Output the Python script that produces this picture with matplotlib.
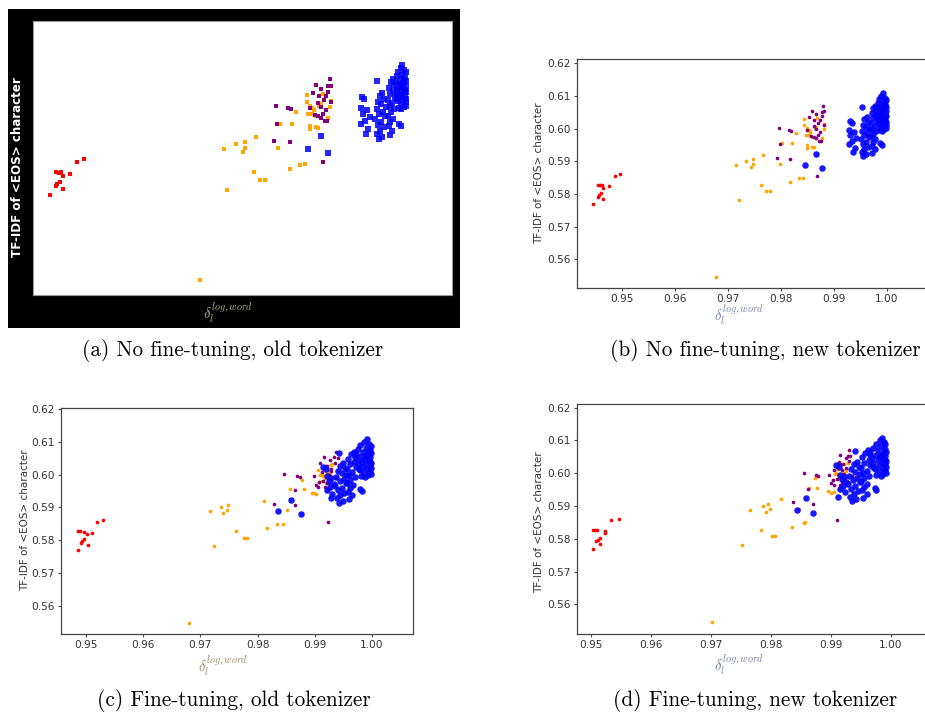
import matplotlib
matplotlib.use('Agg')
import matplotlib.pyplot as plt

# ---------------- data (y shared by all panels, x per panel) ----------------
red_y = [0.5770, 0.5828, 0.5828, 0.5818, 0.5792, 0.5797, 0.5804, 0.5785, 0.5823, 0.5856, 0.5862, 0.5826]
red_x_b = [0.9446, 0.9455, 0.9463, 0.9465, 0.9455, 0.9457, 0.9461, 0.9465, 0.9477, 0.9487, 0.9498, 0.9459]
red_x_c = [0.9486, 0.9485, 0.9490, 0.9501, 0.9491, 0.9493, 0.9496, 0.9504, 0.9511, 0.9519, 0.9530, 0.9497]
red_x_d = [0.9503, 0.9502, 0.9509, 0.9522, 0.9508, 0.9511, 0.9514, 0.9515, 0.9522, 0.9533, 0.9546, 0.9506]

orange_y = [0.5547, 0.5889, 0.5782, 0.5901, 0.5882, 0.5907, 0.5891, 0.5828, 0.5920, 0.5808,
            0.5808, 0.5891, 0.5955, 0.5955, 0.5985, 0.5836, 0.5848, 0.5850, 0.6029, 0.6011,
            0.5979, 0.6001, 0.5950, 0.5940, 0.5996, 0.5991, 0.5945, 0.5943, 0.6001, 0.6006,
            0.6032, 0.5970, 0.5999, 0.6014, 0.5981, 0.5974]
orange_x_b = [0.9678, 0.9715, 0.9721, 0.9735, 0.9745, 0.9748, 0.9748, 0.9763, 0.9766, 0.9772,
              0.9779, 0.9799, 0.9802, 0.9822, 0.9828, 0.9818, 0.9834, 0.9842, 0.9844, 0.9844,
              0.9847, 0.9849, 0.9849, 0.9850, 0.9853, 0.9855, 0.9859, 0.9862, 0.9864, 0.9867,
              0.9869, 0.9877, 0.9881, 0.9882, 0.9853, 0.9859]
orange_x_c = [0.9680, 0.9716, 0.9724, 0.9736, 0.9740, 0.9749, 0.9747, 0.9762, 0.9812, 0.9777,
              0.9782, 0.9851, 0.9856, 0.9882, 0.9878, 0.9817, 0.9834, 0.9844, 0.9929, 0.9924,
              0.9908, 0.9912, 0.9920, 0.9902, 0.9915, 0.9918, 0.9898, 0.9895, 0.9927, 0.9922,
              0.9931, 0.9926, 0.9910, 0.9905, 0.9913, 0.9919]
orange_x_d = [0.9702, 0.9765, 0.9751, 0.9786, 0.9791, 0.9795, 0.9798, 0.9783, 0.9817, 0.9802,
              0.9806, 0.9847, 0.9863, 0.9877, 0.9874, 0.9835, 0.9855, 0.9857, 0.9922, 0.9918,
              0.9903, 0.9908, 0.9916, 0.9900, 0.9912, 0.9915, 0.9895, 0.9905, 0.9920, 0.9925,
              0.9928, 0.9922, 0.9907, 0.9911, 0.9913, 0.9930]

purple_y = [0.6001, 0.5953, 0.5996, 0.5993, 0.5911, 0.5907, 0.5856, 0.6035, 0.6055, 0.6027,
            0.5970, 0.5981, 0.5963, 0.5963, 0.5998, 0.6016, 0.6037, 0.6052, 0.6070, 0.6054,
            0.6011, 0.5991, 0.6027, 0.6009, 0.5978, 0.5974, 0.5996, 0.6045]
purple_x_b = [0.9796, 0.9798, 0.9815, 0.9820, 0.9793, 0.9818, 0.9869, 0.9854, 0.9859, 0.9863,
              0.9867, 0.9870, 0.9873, 0.9876, 0.9866, 0.9871, 0.9877, 0.9878, 0.9880, 0.9882,
              0.9882, 0.9875, 0.9874, 0.9862, 0.9857, 0.9862, 0.9850, 0.9866]
purple_x_c = [0.9847, 0.9866, 0.9869, 0.9875, 0.9828, 0.9866, 0.9923, 0.9910, 0.9917, 0.9920,
              0.9902, 0.9915, 0.9905, 0.9918, 0.9925, 0.9929, 0.9936, 0.9940, 0.9937, 0.9933,
              0.9928, 0.9938, 0.9921, 0.9912, 0.9908, 0.9921, 0.9899, 0.9927]
purple_x_d = [0.9856, 0.9862, 0.9875, 0.9879, 0.9837, 0.9870, 0.9911, 0.9913, 0.9915, 0.9920,
              0.9900, 0.9910, 0.9906, 0.9916, 0.9922, 0.9925, 0.9930, 0.9932, 0.9930, 0.9928,
              0.9919, 0.9935, 0.9915, 0.9905, 0.9903, 0.9918, 0.9897, 0.9926]

blue_y = [0.5889, 0.5923, 0.5879, 0.6067,
          0.6108, 0.6100, 0.6095, 0.6090, 0.6088, 0.6082, 0.6078, 0.6075, 0.6070, 0.6066,
          0.6064, 0.6060, 0.6056, 0.6053, 0.6049, 0.6046, 0.6043, 0.6040, 0.6037, 0.6033,
          0.6030, 0.6027, 0.6024, 0.6020, 0.6016, 0.6013, 0.6010, 0.6006, 0.6002, 0.5999,
          0.5996, 0.6040, 0.6055, 0.6019, 0.6068, 0.5993,
          0.6070, 0.6062, 0.6055, 0.6048, 0.6040, 0.6032, 0.6024, 0.6016, 0.6008, 0.6000,
          0.5992, 0.5984, 0.5976, 0.5968, 0.5958, 0.5948, 0.5937, 0.5925, 0.5955, 0.5950,
          0.6035, 0.6028, 0.6020, 0.6012, 0.6005, 0.5998, 0.5992, 0.5986, 0.5980, 0.5974,
          0.5967, 0.5960, 0.5952, 0.5945, 0.5937, 0.5929, 0.5921, 0.5915,
          0.6024, 0.6018, 0.5996, 0.5990, 0.5981, 0.5972, 0.5962, 0.5953, 0.5942, 0.5928]
blue_x_b = [0.9846, 0.9866, 0.9877, 0.9953,
            0.9993, 0.9990, 0.9996, 0.9986, 0.9999, 0.9992, 0.9984, 0.9997, 0.9989, 0.9999,
            0.9983, 0.9994, 0.9987, 0.9998, 0.9991, 0.9984, 0.9996, 0.9988, 0.9999, 0.9993,
            0.9985, 0.9997, 0.9989, 0.9999, 0.9994, 0.9986, 0.9998, 0.9990, 0.9999, 0.9995,
            0.9987, 0.9997, 0.9992, 0.9985, 0.9996, 0.9991,
            0.9978, 0.9975, 0.9980, 0.9972, 0.9979, 0.9974, 0.9981, 0.9971, 0.9977, 0.9973,
            0.9980, 0.9975, 0.9971, 0.9978, 0.9974, 0.9972, 0.9977, 0.9973, 0.9987, 0.9991,
            0.9962, 0.9958, 0.9965, 0.9955, 0.9960, 0.9967, 0.9953, 0.9963, 0.9957, 0.9966,
            0.9951, 0.9960, 0.9955, 0.9964, 0.9958, 0.9953, 0.9961, 0.9956,
            0.9930, 0.9934, 0.9928, 0.9938, 0.9931, 0.9942, 0.9935, 0.9928, 0.9940, 0.9937]
blue_x_c = [0.9835, 0.9858, 0.9876, 0.9943,
            0.9992, 0.9987, 0.9995, 0.9980, 0.9998, 0.9989, 0.9976, 0.9996, 0.9984, 0.9998,
            0.9973, 0.9992, 0.9981, 0.9997, 0.9987, 0.9975, 0.9995, 0.9983, 0.9998, 0.9990,
            0.9977, 0.9996, 0.9985, 0.9998, 0.9992, 0.9979, 0.9997, 0.9986, 0.9998, 0.9993,
            0.9981, 0.9996, 0.9989, 0.9977, 0.9995, 0.9988,
            0.9968, 0.9963, 0.9971, 0.9958, 0.9969, 0.9961, 0.9972, 0.9957, 0.9966, 0.9960,
            0.9970, 0.9962, 0.9956, 0.9967, 0.9961, 0.9958, 0.9966, 0.9960, 0.9980, 0.9982,
            0.9950, 0.9945, 0.9953, 0.9941, 0.9947, 0.9955, 0.9938, 0.9951, 0.9944, 0.9954,
            0.9936, 0.9948, 0.9941, 0.9952, 0.9945, 0.9939, 0.9949, 0.9943,
            0.9914, 0.9919, 0.9922, 0.9929, 0.9925, 0.9933, 0.9927, 0.9921, 0.9931, 0.9928]
blue_x_d = [0.9843, 0.9858, 0.9870, 0.9940,
            0.9986, 0.9982, 0.9989, 0.9975, 0.9991, 0.9984, 0.9970, 0.9990, 0.9979, 0.9992,
            0.9966, 0.9987, 0.9976, 0.9991, 0.9982, 0.9968, 0.9989, 0.9978, 0.9992, 0.9985,
            0.9971, 0.9990, 0.9980, 0.9992, 0.9987, 0.9973, 0.9991, 0.9981, 0.9992, 0.9988,
            0.9975, 0.9990, 0.9984, 0.9970, 0.9989, 0.9983,
            0.9962, 0.9957, 0.9965, 0.9952, 0.9963, 0.9955, 0.9966, 0.9951, 0.9960, 0.9954,
            0.9964, 0.9956, 0.9950, 0.9961, 0.9955, 0.9952, 0.9960, 0.9954, 0.9973, 0.9975,
            0.9943, 0.9938, 0.9947, 0.9934, 0.9940, 0.9949, 0.9931, 0.9944, 0.9937, 0.9948,
            0.9929, 0.9941, 0.9934, 0.9946, 0.9938, 0.9932, 0.9942, 0.9936,
            0.9908, 0.9913, 0.9916, 0.9922, 0.9919, 0.9926, 0.9920, 0.9915, 0.9924, 0.9912]

x_ticks = [0.95, 0.96, 0.97, 0.98, 0.99, 1.00]
y_ticks = [0.56, 0.57, 0.58, 0.59, 0.60, 0.61, 0.62]
y_label = "TF-IDF of <EOS> character"
x_label = r"$\delta_l^{log,word}$"
captions = ["(a) No fine-tuning, old tokenizer", "(b) No fine-tuning, new tokenizer",
            "(c) Fine-tuning, old tokenizer", "(d) Fine-tuning, new tokenizer"]

# ---------------- layout helpers ----------------
W, H = 925, 713
fig = plt.figure(figsize=(W / 100, H / 100), dpi=100)


def box(l, t, r, b):
    return [l / W, 1 - b / H, (r - l) / W, (b - t) / H]


def fx(px):
    return px / W


def fy(py):
    return 1 - py / H


def style_axes(ax):
    for s in ax.spines.values():
        s.set_color('#444444')
        s.set_linewidth(0.9)
    ax.set_xticks(x_ticks)
    ax.set_xticklabels(["%.2f" % v for v in x_ticks])
    ax.set_yticks(y_ticks)
    ax.set_yticklabels(["%.2f" % v for v in y_ticks])
    ax.tick_params(labelsize=7.6, length=2.5, width=0.8, color='#444444',
                   labelcolor='#333333', pad=1.8)


def draw_points(ax, xr, xo, xp, xb, square=False):
    if square:
        ax.scatter(xr, red_y, s=10, c='red', marker='s', linewidths=0)
        ax.scatter(xo, orange_y, s=10, c='orange', marker='s', linewidths=0)
        ax.scatter(xp, purple_y, s=10, c='purple', marker='s', linewidths=0)
        ax.scatter(xb, blue_y, s=18, c='blue', marker='s', linewidths=0, alpha=0.85)
    else:
        ax.scatter(xr, red_y, s=7, c='red', linewidths=0)
        ax.scatter(xo, orange_y, s=7, c='orange', linewidths=0)
        ax.scatter(xp, purple_y, s=7, c='purple', linewidths=0)
        ax.scatter(xb, blue_y, s=22, c='blue', linewidths=0, alpha=0.9)


# ---------------- panel (a): dark-theme export ----------------
ax_bg = fig.add_axes(box(8, 9, 460, 328), zorder=0)
ax_bg.set_facecolor('black')
ax_bg.set_xticks([])
ax_bg.set_yticks([])
for s in ax_bg.spines.values():
    s.set_visible(False)

ax_a = fig.add_axes(box(33, 21, 452, 295), zorder=1)
ax_a.set_facecolor('white')
draw_points(ax_a, red_x_b, orange_x_b, purple_x_b, blue_x_b, square=True)
ax_a.set_xlim(0.9419, 1.0070)
ax_a.set_ylim(0.5509, 0.6222)
ax_a.set_xticks([])
ax_a.set_yticks([])
for s in ax_a.spines.values():
    s.set_color('#999999')
    s.set_linewidth(0.8)
fig.text(fx(18), fy(167), y_label, rotation=90, ha='center', va='center',
         color='white', fontsize=8.6, fontweight='bold', family='DejaVu Sans', zorder=3)
fig.text(fx(228), fy(313), x_label, ha='center', va='center', color='#b8ae98',
         fontsize=10.5, math_fontfamily='cm', zorder=3)

# ---------------- panel (b) ----------------
ax_b = fig.add_axes(box(577, 59, 926, 288))
draw_points(ax_b, red_x_b, orange_x_b, purple_x_b, blue_x_b)
ax_b.set_xlim(0.9416, 1.0074)
ax_b.set_ylim(0.5512, 0.6213)
style_axes(ax_b)

# ---------------- panel (c) ----------------
ax_c = fig.add_axes(box(61, 408, 413, 634))
draw_points(ax_c, red_x_c, orange_x_c, purple_x_c, blue_x_c)
ax_c.set_xlim(0.9456, 1.0072)
ax_c.set_ylim(0.5513, 0.6204)
style_axes(ax_c)

# ---------------- panel (d) ----------------
ax_d = fig.add_axes(box(577, 404, 926, 634))
draw_points(ax_d, red_x_d, orange_x_d, purple_x_d, blue_x_d)
ax_d.set_xlim(0.9476, 1.0059)
ax_d.set_ylim(0.5510, 0.6211)
style_axes(ax_d)

# axis labels for b, c, d
for (lx, ly, xl_x, xl_y, col) in [(539, 173, 739, 315, '#7580a8'),
                                  (25, 520, 223, 666, '#9c8466'),
                                  (539, 522, 739, 665, '#7580a8')]:
    fig.text(fx(lx), fy(ly), y_label, rotation=90, ha='center', va='center',
             color='#333333', fontsize=7.5, family='DejaVu Sans')
    fig.text(fx(xl_x), fy(xl_y), x_label, ha='center', va='center', color=col,
             fontsize=10.5, math_fontfamily='cm')

# captions
for txt, cx, cy in zip(captions, [233, 765, 234, 755], [351, 351, 701, 701]):
    fig.text(fx(cx), fy(cy), txt, ha='center', va='center', fontsize=15.3,
             family='cmr10', color='black')

fig.savefig('out.png', dpi=100)
